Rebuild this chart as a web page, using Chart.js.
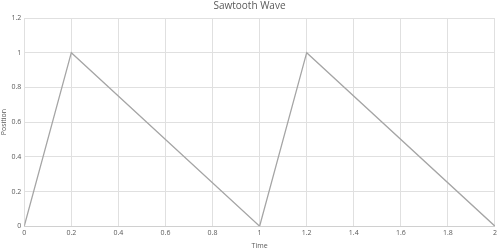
<!DOCTYPE html>
<html>
<head>
<meta charset="utf-8">
<script src="https://cdn.jsdelivr.net/npm/chart.js@4"></script>
<style>
  html, body { margin: 0; padding: 0; background: #fff; }
  #wrap { width: 500px; height: 252px; }
</style>
</head>
<body>
<div id="wrap"><canvas id="sawChart" width="500" height="252"></canvas></div>
<script>
// Sawtooth wave data (time vs position)
const times = [0, 0.2, 1, 1.2, 2];
const positions = [0, 1, 0, 1, 0];
const xTicks = [0, 0.2, 0.4, 0.6, 0.8, 1, 1.2, 1.4, 1.6, 1.8, 2];
const yTicks = [0, 0.2, 0.4, 0.6, 0.8, 1, 1.2];

const points = times.map((t, i) => ({ x: t, y: positions[i] }));
const fontFamily = "'Open Sans', 'Liberation Sans', sans-serif";
const fmt = v => String(Math.round(v * 10) / 10);

const ctx = document.getElementById('sawChart').getContext('2d');
new Chart(ctx, {
    type: 'scatter',
    data: {
        datasets: [{
            label: 'Position',
            data: points,
            showLine: true,
            borderColor: '#a5a5a5',
            borderWidth: 1.3,
            pointRadius: 0,
            tension: 0
        }]
    },
    options: {
        responsive: false,
        animation: false,
        layout: { padding: { left: 0, right: 1, top: 0, bottom: 2 } },
        plugins: {
            legend: { display: false },
            tooltip: { enabled: false },
            title: {
                display: true,
                text: 'Sawtooth Wave',
                color: '#595959',
                font: { family: fontFamily, size: 10, weight: 'normal' },
                padding: { top: 0, bottom: 6 }
            }
        },
        scales: {
            x: {
                type: 'linear',
                min: 0,
                max: 2,
                afterBuildTicks: axis => { axis.ticks = xTicks.map(v => ({ value: v })); },
                ticks: {
                    color: '#595959',
                    font: { family: fontFamily, size: 7 },
                    maxRotation: 0,
                    padding: 3,
                    callback: v => fmt(v)
                },
                grid: { color: '#e0e0e0', drawTicks: false },
                border: { color: '#d0d0d0' },
                title: {
                    display: true,
                    text: 'Time',
                    color: '#595959',
                    font: { family: fontFamily, size: 7 },
                    padding: { top: 1, bottom: 0 }
                }
            },
            y: {
                min: 0,
                max: 1.2,
                afterBuildTicks: axis => { axis.ticks = yTicks.map(v => ({ value: v })); },
                ticks: {
                    color: '#595959',
                    font: { family: fontFamily, size: 7 },
                    padding: 3,
                    callback: v => fmt(v)
                },
                grid: { color: '#e0e0e0', drawTicks: false },
                border: { display: false },
                title: {
                    display: true,
                    text: 'Position',
                    color: '#595959',
                    font: { family: fontFamily, size: 7 },
                    padding: { top: 0, bottom: 0 }
                }
            }
        }
    }
});
</script>
</body>
</html>
